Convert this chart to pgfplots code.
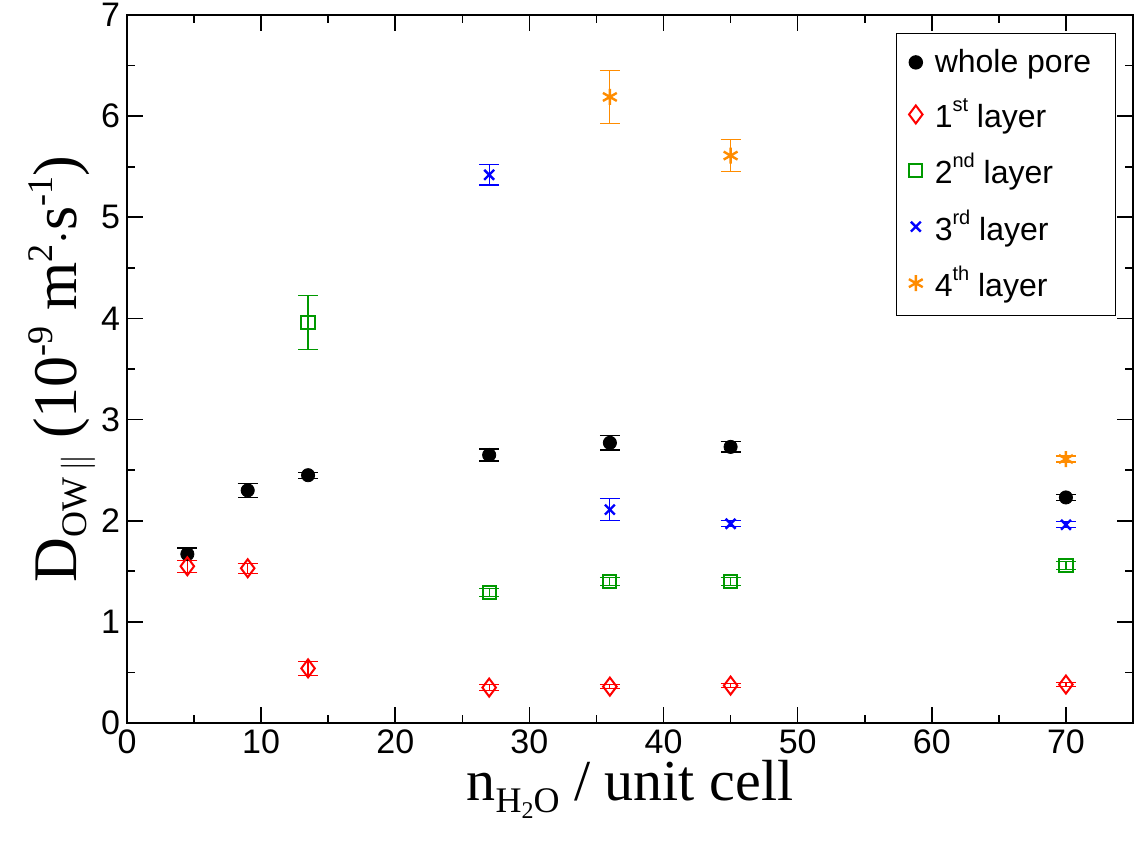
\documentclass[border=0pt]{standalone}
\usepackage{pgfplots}
\pgfplotsset{compat=1.18}
\usepackage{fontspec}
\setmainfont{Liberation Sans}
\newfontfamily\serif{Liberation Serif}
\begin{document}
\begin{tikzpicture}[x=1pt,y=1pt]
\path[use as bounding box] (-63.5,-61.5) rectangle (505.5,361.5);
\begin{axis}[at={(0,0)},anchor=south west,scale only axis,width=503pt,height=354pt,
 xmin=0,xmax=75,ymin=0,ymax=7,
 xtick={0,10,...,70},ytick={0,...,7},
 minor x tick num=1, minor y tick num=1,
 tick align=inside, major tick length=8pt, minor tick length=4pt,
 tick style={black,line width=0.8pt}, axis line style={line width=0.8pt},
 ticklabel style={font=\fontsize{17}{17}\selectfont},
 /pgf/number format/assume math mode=true,
 xlabel={\serif\fontsize{29}{29}\selectfont n\raisebox{-6pt}{\fontsize{18}{18}\selectfont H\raisebox{-3pt}{\fontsize{12}{12}\selectfont 2}O} / unit cell},
 ylabel={\serif\fontsize{31}{31}\selectfont D\raisebox{-5pt}{\fontsize{18}{18}\selectfont OW$\,\|$} (10\raisebox{12pt}{\fontsize{18}{18}\selectfont -9} m\raisebox{12pt}{\fontsize{18}{18}\selectfont 2}$\cdot$s\raisebox{12pt}{\fontsize{18}{18}\selectfont -1})},
 xlabel style={yshift=4pt}, ylabel style={yshift=-4pt},
 legend style={at={(0.983,0.975)},anchor=north east,draw=black,line width=0.6pt,font=\fontsize{16}{18}\selectfont,row sep=7.5pt,inner xsep=6pt,inner ysep=6pt,cells={anchor=west},
   nodes={inner xsep=6pt}},
 legend cell align=left,
 legend image code/.code={\draw[mark repeat=2,mark phase=2] plot coordinates {(0cm,0cm) (0.25cm,0cm) (0.5cm,0cm)};},
 error bars/y dir=both, error bars/y explicit,
 error bars/error mark options={rotate=90,mark size=5pt,line width=0.6pt},
 error bars/error bar style={line width=0.6pt}]
\addplot[only marks,black,mark=*,mark size=3.3pt,error bars/error bar style={black}] coordinates {
(4.5,1.67) +- (0,0.06) (9,2.30) +- (0,0.07) (13.5,2.45) +- (0,0.03) (27,2.65) +- (0,0.06) (36,2.77) +- (0,0.07) (45,2.73) +- (0,0.05) (70,2.23) +- (0,0.03)};
\addlegendentry{whole pore}
\addplot[only marks,red,mark=diamond,mark size=4.5pt,mark options={line width=1pt}] coordinates {
(4.5,1.55) +- (0,0.06) (9,1.53) +- (0,0.05) (13.5,0.54) +- (0,0.07) (27,0.35) +- (0,0.03) (36,0.36) +- (0,0.02) (45,0.37) +- (0,0.02) (70,0.38) +- (0,0.02)};
\addlegendentry{1\raisebox{8pt}{\fontsize{10}{10}\selectfont st} layer}
\addplot[only marks,green!60!black,mark=square,mark size=3.3pt,mark options={line width=1pt}] coordinates {
(13.5,3.96) +- (0,0.27) (27,1.29) +- (0,0.04) (36,1.40) +- (0,0.04) (45,1.40) +- (0,0.04) (70,1.56) +- (0,0.04)};
\addlegendentry{2\raisebox{8pt}{\fontsize{10}{10}\selectfont nd} layer}
\addplot[only marks,blue,mark=x,mark size=3.5pt,mark options={line width=1.2pt}] coordinates {
(27,5.42) +- (0,0.10) (36,2.11) +- (0,0.11) (45,1.97) +- (0,0.03) (70,1.96) +- (0,0.03)};
\addlegendentry{3\raisebox{8pt}{\fontsize{10}{10}\selectfont rd} layer}
\addplot[only marks,orange!90!yellow,mark=asterisk,mark size=4pt,mark options={line width=1.2pt}] coordinates {
(36,6.19) +- (0,0.26) (45,5.61) +- (0,0.16) (70,2.61) +- (0,0.03)};
\addlegendentry{4\raisebox{8pt}{\fontsize{10}{10}\selectfont th} layer}
\end{axis}
\end{tikzpicture}
\end{document}
